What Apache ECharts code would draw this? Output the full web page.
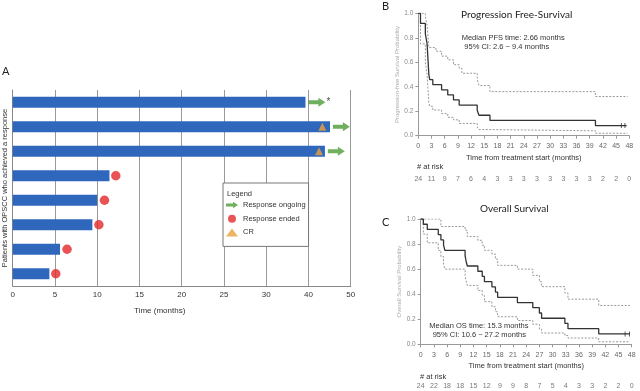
<!DOCTYPE html>
<html>
<head>
<meta charset="utf-8">
<script src="https://cdn.jsdelivr.net/npm/echarts@6/dist/echarts.min.js"></script>
<style>
  html, body { margin: 0; padding: 0; background: #fff; }
  #main { width: 640px; height: 391px; }
</style>
</head>
<body>
<div id="main"></div>
<script>
// ---- panel A: swimmer plot, times in months ----
var patients = ['1', '2', '3', '4', '5', '6', '7', '8'];
var barEnd = [39.3, 45.1, 43.9, 11.45, 10.0, 9.43, 5.6, 4.34];
var ongoingAt = [[42.0, 0], [47.8, 1], [46.6, 2]];
var endedAt = [[12.2, 3], [10.86, 4], [10.2, 5], [6.43, 6], [5.1, 7]];
var crAt = [[43.3, 1], [42.5, 2]];

// ---- panel B: progression free survival ----
var pfsEst = [[0, 1], [0.5, 0.917], [1.6, 0.833], [2.0, 0.75], [2.4, 0.5], [2.6, 0.458], [3.3, 0.417], [5.3, 0.375],
  [6.7, 0.333], [8.0, 0.292], [9.3, 0.25], [13.4, 0.208], [13.8, 0.167], [16.3, 0.125], [40.3, 0.083], [47.4, 0.083]];
var pfsUpper = [[0, 1], [1.6, 0.97], [2.0, 0.9], [2.4, 0.72], [4.0, 0.69], [5.3, 0.65], [6.7, 0.62], [8.0, 0.58],
  [9.3, 0.55], [9.9, 0.51], [13.4, 0.46], [13.8, 0.41], [16.3, 0.36], [40.3, 0.32], [47.6, 0.32]];
var pfsLower = [[0, 1], [0.5, 0.75], [1.6, 0.6], [2.0, 0.5], [2.4, 0.27], [2.6, 0.24], [3.3, 0.21], [5.3, 0.18],
  [6.7, 0.15], [8.0, 0.13], [9.3, 0.1], [13.4, 0.07], [13.8, 0.05], [16.3, 0.04], [40.3, 0.02], [47.6, 0.02]];
var pfsCensor = [[46.2, 0.083], [47.0, 0.083]];

// ---- panel C: overall survival ----
var osEst = [[0, 1], [0.6, 0.958], [1.5, 0.917], [4.0, 0.875], [4.6, 0.833], [5.2, 0.792], [5.5, 0.75], [10.1, 0.708],
  [10.3, 0.667], [10.6, 0.625], [13.0, 0.583], [14.0, 0.542], [14.5, 0.5], [16.2, 0.458], [17.0, 0.417], [17.5, 0.375],
  [22.0, 0.333], [25.5, 0.292], [27.0, 0.25], [27.5, 0.208], [32.8, 0.167], [33.5, 0.125], [40.5, 0.083], [47.6, 0.083]];
var osUpper = [[0, 1], [4.6, 0.94], [10.1, 0.91], [10.6, 0.86], [13.0, 0.83], [14.0, 0.79], [14.5, 0.75], [16.2, 0.72],
  [17.0, 0.68], [17.5, 0.63], [22.0, 0.6], [25.5, 0.55], [27.0, 0.5], [27.5, 0.46], [32.8, 0.41], [33.5, 0.36],
  [40.5, 0.31], [47.6, 0.31]];
var osLower = [[0, 1], [0.6, 0.88], [1.5, 0.81], [4.0, 0.75], [4.6, 0.7], [5.2, 0.64], [5.5, 0.6], [10.1, 0.55],
  [10.3, 0.51], [10.6, 0.47], [13.0, 0.43], [14.0, 0.39], [14.5, 0.34], [16.2, 0.3], [17.0, 0.26], [17.5, 0.22],
  [22.0, 0.19], [25.5, 0.16], [27.0, 0.12], [27.5, 0.09], [32.8, 0.07], [33.5, 0.05], [40.5, 0.02], [47.6, 0.02]];
var osCensor = [[46.5, 0.083], [47.5, 0.083]];

// numbers at risk, one per x tick
var riskTimes = [0, 3, 6, 9, 12, 15, 18, 21, 24, 27, 30, 33, 36, 39, 42, 45, 48];
var pfsRisk = [24, 11, 9, 7, 6, 4, 3, 3, 3, 3, 3, 3, 3, 3, 2, 2, 0];
var osRisk = [24, 22, 18, 18, 15, 12, 9, 9, 8, 7, 5, 4, 3, 3, 2, 2, 0];

// swimmer x axis: 0-30 linear, then 40 and 50 at one tick step each
function toAxis(m) { return m <= 30 ? m : 30 + (m - 30) / 2; }
function toMonths(v) { return v <= 30 ? v : 30 + (v - 30) * 2; }

var SANS = 'Liberation Sans';
var arrowPath = 'path://M0,2.5L10,2.5L10,0L17,4.5L10,9L10,6.5L0,6.5Z';
var censorPath = 'path://M0,0h1v10h-1z';

var myChart = echarts.init(document.getElementById('main'));

function kmAxis(grid, yName) {
  return {
    x: {
      gridIndex: grid, type: 'value', min: 0, max: 48, interval: 3,
      axisLine: { lineStyle: { color: '#999' } },
      axisTick: { show: true, length: 3, lineStyle: { color: '#999' } },
      splitLine: { show: false },
      axisLabel: { fontSize: 7, color: '#666', margin: 7, fontFamily: SANS },
      name: 'Time from treatment start (months)', nameLocation: 'middle', nameGap: 18,
      nameTextStyle: { fontSize: 7.5, color: '#333', fontFamily: SANS }
    },
    y: {
      gridIndex: grid, type: 'value', min: 0, max: 1, interval: 0.2,
      axisLine: { show: true, lineStyle: { color: '#999' } },
      axisTick: { show: true, length: 3, lineStyle: { color: '#999' } },
      splitLine: { show: false },
      axisLabel: { fontSize: 6.5, color: '#888', margin: 5, fontFamily: SANS,
        formatter: function (v) { return v.toFixed(1); } },
      name: yName, nameLocation: 'middle', nameGap: 17, nameRotate: 90,
      nameTextStyle: { fontSize: 6, color: '#aaa', fontFamily: SANS }
    }
  };
}
var axB = kmAxis(1, 'Progression-free Survival Probability');
var axC = kmAxis(3, 'Overall Survival Probability');

function hiddenX(grid) { return { gridIndex: grid, type: 'value', min: 0, max: 48, show: false }; }
function hiddenY(grid) { return { gridIndex: grid, type: 'value', min: -1, max: 1, show: false }; }

function kmLine(name, data, xi, yi, dotted) {
  return {
    name: name, type: 'line', xAxisIndex: xi, yAxisIndex: yi, data: data, step: 'end',
    symbol: 'none', silent: true,
    lineStyle: dotted ? { color: '#999', width: 1, type: [2, 1.5] } : { color: '#333', width: 1.3 }
  };
}
function censor(data, xi, yi) {
  return { type: 'scatter', xAxisIndex: xi, yAxisIndex: yi, data: data, symbol: censorPath,
    symbolSize: [1, 5], itemStyle: { color: '#333' }, silent: true };
}
function riskRow(risk, xi, yi) {
  return {
    type: 'scatter', xAxisIndex: xi, yAxisIndex: yi, symbolSize: 0, silent: true,
    data: riskTimes.map(function (t, i) { return [t, 0, risk[i]]; }),
    label: { show: true, position: 'inside', fontSize: 7, color: '#555', fontFamily: SANS,
      formatter: function (p) { return p.value[2]; } }
  };
}

function txt(x, y, s, size, opts) {
  opts = opts || {};
  return { type: 'text', x: x, y: y, z: 100, silent: true,
    style: { text: s, fill: opts.fill || '#333', font: size + 'px "' + (opts.font || SANS) + '"',
      align: opts.align || 'left', verticalAlign: 'middle' } };
}

function grid(l, t, w, h) {
  return { left: l, top: t, width: w, height: h, containLabel: false, outerBoundsMode: 'none' };
}

var option = {
  animation: false,
  backgroundColor: '#fff',
  textStyle: { fontFamily: SANS },
  grid: [
    grid(12.7, 90, 338, 196),
    grid(418.3, 13.3, 211, 122.4),
    grid(418.3, 174, 211, 10),
    grid(420.7, 219, 211, 125.3),
    grid(420.7, 381, 211, 10)
  ],
  xAxis: [
    {
      gridIndex: 0, type: 'value', min: 0, max: 40, interval: 5,
      axisLine: { show: true, lineStyle: { color: '#888' } },
      axisTick: { show: false },
      splitLine: { show: true, lineStyle: { color: '#999', width: 1 } },
      axisLabel: { fontSize: 8, color: '#333', margin: 5, fontFamily: SANS,
        formatter: function (v) { return toMonths(v); } },
      name: 'Time (months)', nameLocation: 'middle', nameGap: 21,
      nameTextStyle: { fontSize: 8, color: '#333', fontFamily: SANS, padding: [0, 44, 0, 0] }
    },
    axB.x, hiddenX(2), axC.x, hiddenX(4)
  ],
  yAxis: [
    {
      gridIndex: 0, type: 'category', data: patients, inverse: true,
      axisLine: { show: true, lineStyle: { color: '#888' } },
      axisTick: { show: false }, axisLabel: { show: false },
      name: 'Patients with OPSCC who achieved a response', nameLocation: 'middle', nameGap: 4, nameRotate: 90,
      nameTextStyle: { fontSize: 7.5, color: '#333', fontFamily: SANS }
    },
    axB.y, hiddenY(2), axC.y, hiddenY(4)
  ],
  legend: {
    orient: 'vertical', left: 223, top: 183, selectedMode: false, z: 10,
    backgroundColor: '#fff', borderColor: '#777', borderWidth: 1, borderRadius: 0,
    padding: [17, 3, 9, 3], itemGap: 3.7, itemWidth: 12, itemHeight: 8,
    textStyle: { fontSize: 7.5, color: '#333', lineHeight: 10, fontFamily: SANS },
    data: [
      { name: 'Response ongoing', icon: arrowPath },
      { name: 'Response ended', icon: 'circle' },
      { name: 'CR', icon: 'triangle' }
    ]
  },
  graphic: [
    txt(2, 71.5, 'A', 11, { font: 'Lato', fill: '#222' }),
    txt(382, 6, 'B', 11, { font: 'Lato', fill: '#222' }),
    txt(382, 222, 'C', 11, { font: 'Lato', fill: '#222' }),
    txt(227, 194, 'Legend', 7.5),
    txt(516.7, 15, 'Progression Free-Survival', 10, { font: 'Lato', align: 'center', fill: '#222' }),
    txt(461.7, 38.3, 'Median PFS time: 2.66 months', 7.5),
    txt(464.3, 47.3, '95% CI: 2.6 ~ 9.4 months', 7.5),
    txt(417, 167.3, '# at risk', 7.5),
    txt(514.3, 208.3, 'Overall Survival', 10, { font: 'Lato', align: 'center', fill: '#222' }),
    txt(429.3, 325.7, 'Median OS time: 15.3 months', 7.5),
    txt(432.7, 334.7, '95% CI: 10.6 ~ 27.2 months', 7.5),
    txt(420, 376.7, '# at risk', 7.5)
  ],
  series: [
    {
      type: 'bar', xAxisIndex: 0, yAxisIndex: 0, barWidth: 11, silent: true,
      data: barEnd.map(toAxis), itemStyle: { color: '#2F67BD' }
    },
    {
      name: 'CR', type: 'scatter', xAxisIndex: 0, yAxisIndex: 0, symbol: 'triangle', symbolSize: 8,
      data: crAt.map(function (d) { return [toAxis(d[0]), d[1]]; }), itemStyle: { color: '#E9A23B' }
    },
    {
      name: 'Response ended', type: 'scatter', xAxisIndex: 0, yAxisIndex: 0, symbol: 'circle', symbolSize: 9.5,
      data: endedAt.map(function (d) { return [toAxis(d[0]), d[1]]; }), itemStyle: { color: '#E3282A' }
    },
    {
      name: 'Response ongoing', type: 'scatter', xAxisIndex: 0, yAxisIndex: 0, symbol: arrowPath,
      symbolSize: [17, 9], itemStyle: { color: '#4C9B36' },
      data: ongoingAt.map(function (d, i) {
        var item = { value: [toAxis(d[0]), d[1]] };
        if (i === 0) {
          item.label = { show: true, position: 'right', distance: 1, formatter: '*', fontSize: 10, color: '#222' };
        }
        return item;
      })
    },
    kmLine('pfs upper', pfsUpper, 1, 1, true),
    kmLine('pfs lower', pfsLower, 1, 1, true),
    kmLine('pfs', pfsEst, 1, 1, false),
    censor(pfsCensor, 1, 1),
    riskRow(pfsRisk, 2, 2),
    kmLine('os upper', osUpper, 3, 3, true),
    kmLine('os lower', osLower, 3, 3, true),
    kmLine('os', osEst, 3, 3, false),
    censor(osCensor, 3, 3),
    riskRow(osRisk, 4, 4)
  ]
};

myChart.setOption(option);
</script>
</body>
</html>
